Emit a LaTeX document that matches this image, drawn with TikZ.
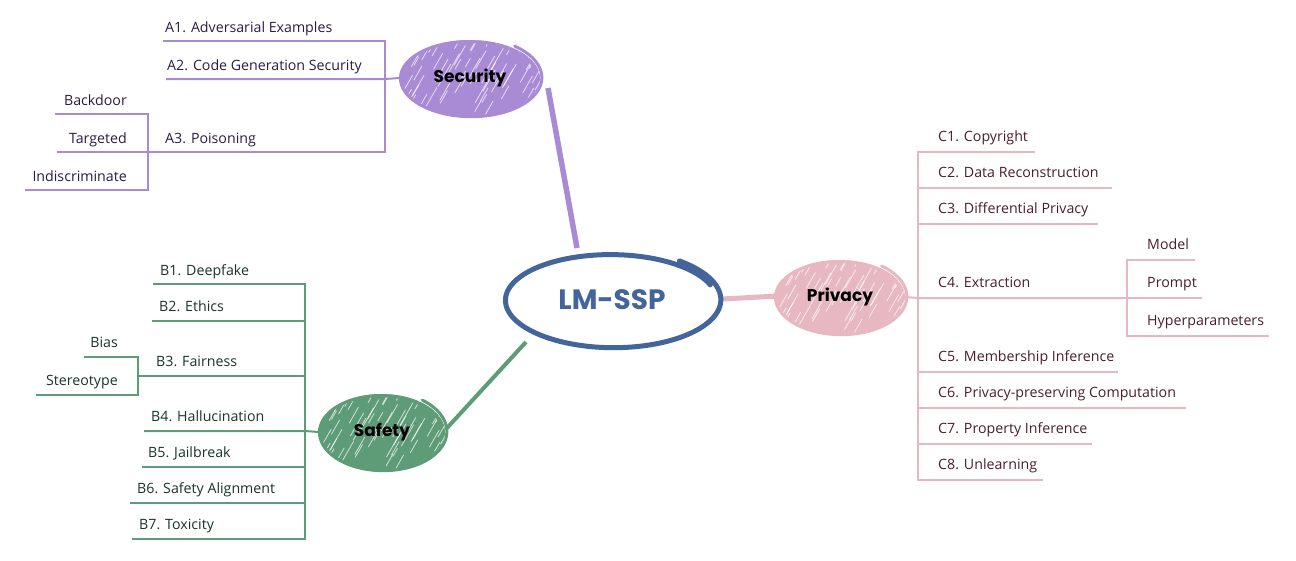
\documentclass[tikz,border=0pt]{standalone}
\usepackage{fontspec}
\setmainfont{Open Sans}
\newfontfamily\hd{Poppins}
\usetikzlibrary{shapes.geometric}
\definecolor{secC}{HTML}{A98AD4}
\definecolor{secT}{HTML}{2B1B45}
\definecolor{safC}{HTML}{5E9B77}
\definecolor{safT}{HTML}{1B3328}
\definecolor{priC}{HTML}{E8B8C2}
\definecolor{priT}{HTML}{4A1E2A}
\definecolor{cenC}{HTML}{44659B}
\tikzset{
  leaf/.style={anchor=base west, inner sep=0pt, font=\fontsize{14.2}{16}\selectfont},
  subleaf/.style={anchor=base east, inner sep=0pt, font=\fontsize{14.2}{16}\selectfont},
  secline/.style={draw=secC, line width=2pt},
  safline/.style={draw=safC, line width=2pt},
  priline/.style={draw=priC, line width=2pt},
  blob/.style={ellipse, inner sep=0pt, font=\hd\bfseries\fontsize{17}{19}\selectfont, text=black},
}
\newcommand\handoutline[6]{%
  \draw[#5, line width=#6, line join=round, line cap=round]
    plot[smooth, domain=20:412, samples=150]
    ({#1+(#3-2.5+5*(\x-20)/392)*cos(\x)}, {#2-(#4-2.5+5*(\x-20)/392)*sin(\x)});}
\newcommand\hatch[4]{%
  \begin{scope}
    \clip (#1,#2) ellipse ({#3} and {#4});
    \pgfmathsetseed{7}
    \foreach \i in {1,...,70} {
      \pgfmathsetmacro\px{#1+#3*(rand)}
      \pgfmathsetmacro\py{#2+#4*(rand)}
      \pgfmathsetmacro\ll{8+20*rnd}
      \draw[white, line width=0.8pt, opacity=0.7] (\px,\py) -- ++(\ll*0.5,-\ll*0.87);
    }
  \end{scope}}
\begin{document}
\begin{tikzpicture}[x=1pt,y=-1pt]
\useasboundingbox (0,0) rectangle (1296,560);

% ---------- connectors to centre ----------
\coordinate (cs1) at (577,248); \coordinate (cs2) at (548,88);
\coordinate (cf1) at (526,342); \coordinate (cf2) at (447,428);
\coordinate (cp1) at (722,299); \coordinate (cp2) at (778,296);
\draw[secC, line width=5.5pt] (cs1) -- (cs2);
\draw[safC, line width=4pt] (cf1) -- (cf2);
\draw[priC, line width=5pt] (cp1) -- (cp2);

% ---------- centre ----------
\node[ellipse, minimum width=214pt, minimum height=94pt, fill=white] (cen) at (612,300) {};
\handoutline{612}{300}{107}{47}{cenC}{5pt}
\node[font=\hd\bfseries\fontsize{28}{30}\selectfont, text=cenC] at (cen) {LM-SSP};

% ---------- Security ----------
\node[blob, minimum width=140pt, minimum height=76pt, fill=secC] (sec) at (470,78) {};
\hatch{470}{78}{70}{38}
\handoutline{470}{78}{70}{38}{secC}{3pt}
\node[blob] at (sec) {Security};

\coordinate (sJ1) at (385,41); \coordinate (sJ2) at (385,79); \coordinate (sJ3) at (385,152);
\coordinate (sA1) at (163,41); \coordinate (sA2) at (166,79); \coordinate (sA3) at (146,152);
\draw[secline] (sA1) -- (sJ1) -- (sJ3) -- (sA3);
\draw[secline] (sA2) -- (sJ2) -- (sec.west);
\node[leaf, text=secT] (a1) at (165,32) {A1. Adversarial Examples};
\node[leaf, text=secT] (a2) at (167,70) {A2. Code Generation Security};
\node[leaf, text=secT] (a3) at (165,143) {A3. Poisoning};
\coordinate (pJ1) at (148,114); \coordinate (pJ3) at (148,190);
\coordinate (pB) at (55,114); \coordinate (pT) at (57,152); \coordinate (pI) at (25,190);
\draw[secline] (pB) -- (pJ1) -- (pJ3) -- (pI);
\draw[secline] (pT) -- (sA3);
\node[subleaf, text=secT] (bd) at (127,105) {Backdoor};
\node[subleaf, text=secT] (tg) at (127,143) {Targeted};
\node[subleaf, text=secT] (ind) at (127,181) {Indiscriminate};

% ---------- Safety ----------
\node[blob, minimum width=126pt, minimum height=76pt, fill=safC] (saf) at (382,432) {};
\hatch{382}{432}{63}{38}
\handoutline{382}{432}{63}{38}{safC}{3pt}
\node[blob] at (saf) {Safety};

\coordinate (fJ1) at (305,284); \coordinate (fJ2) at (305,321); \coordinate (fJ3) at (305,376);
\coordinate (fJ4) at (305,431); \coordinate (fJ5) at (305,467); \coordinate (fJ6) at (305,503);
\coordinate (fJ7) at (305,539);
\draw[safline] (153,284) coordinate (fB1) -- (fJ1) -- (fJ7) -- (132,539) coordinate (fB7);
\draw[safline] (152,321) coordinate (fB2) -- (fJ2);
\draw[safline] (138,376) coordinate (fB3) -- (fJ3);
\draw[safline] (144,431) coordinate (fB4) -- (fJ4) -- (saf.west);
\draw[safline] (142,467) coordinate (fB5) -- (fJ5);
\draw[safline] (130,503) coordinate (fB6) -- (fJ6);
\node[leaf, text=safT] (b1) at (160,275) {B1. Deepfake};
\node[leaf, text=safT] (b2) at (159,311) {B2. Ethics};
\node[leaf, text=safT] (b3) at (156,366) {B3. Fairness};
\node[leaf, text=safT] (b4) at (151,421) {B4. Hallucination};
\node[leaf, text=safT] (b5) at (148,457) {B5. Jailbreak};
\node[leaf, text=safT] (b6) at (137,493) {B6. Safety Alignment};
\node[leaf, text=safT] (b7) at (139,529) {B7. Toxicity};
\coordinate (qJ1) at (138,357); \coordinate (qJ2) at (138,395);
\draw[safline] (84,357) coordinate (qB) -- (qJ1) -- (qJ2) -- (36,395) coordinate (qS);
\node[subleaf, text=safT] (bias) at (118,347) {Bias};
\node[subleaf, text=safT] (ster) at (118,385) {Stereotype};

% ---------- Privacy ----------
\node[blob, minimum width=130pt, minimum height=74pt, fill=priC] (pri) at (840,297) {};
\hatch{840}{297}{65}{37}
\handoutline{840}{297}{65}{37}{priC}{3pt}
\node[blob] at (pri) {Privacy};

\coordinate (rJ1) at (918,152); \coordinate (rJ8) at (918,480); \coordinate (rJ4) at (918,298);
\draw[priline] (1035,152) coordinate (rC1) -- (rJ1) -- (rJ8) -- (1043,480) coordinate (rC8);
\draw[priline] (pri.east) -- (rJ4) -- (1127,298) coordinate (xJ);
\draw[priline] (918,188) -- (1112,188) coordinate (rC2);
\draw[priline] (918,224) -- (1098,224) coordinate (rC3);
\draw[priline] (918,372) -- (1118,372) coordinate (rC5);
\draw[priline] (918,408) -- (1186,408) coordinate (rC6);
\draw[priline] (918,444) -- (1092,444) coordinate (rC7);
\node[leaf, text=priT] (c1) at (938,141) {C1. Copyright};
\node[leaf, text=priT] (c2) at (938,177) {C2. Data Reconstruction};
\node[leaf, text=priT] (c3) at (938,213) {C3. Differential Privacy};
\node[leaf, text=priT] (c4) at (938,287) {C4. Extraction};
\node[leaf, text=priT] (c5) at (938,361) {C5. Membership Inference};
\node[leaf, text=priT] (c6) at (938,397) {C6. Privacy-preserving Computation};
\node[leaf, text=priT] (c7) at (938,433) {C7. Property Inference};
\node[leaf, text=priT] (c8) at (938,469) {C8. Unlearning};
\coordinate (xJ1) at (1127,260); \coordinate (xJ3) at (1127,336);
\draw[priline] (1195,260) coordinate (xM) -- (xJ1) -- (xJ3) -- (1269,336) coordinate (xH);
\draw[priline] (xJ) -- (1202,298) coordinate (xP);
\node[leaf, text=priT] (mo) at (1147,249) {Model};
\node[leaf, text=priT] (pr) at (1147,287) {Prompt};
\node[leaf, text=priT] (hy) at (1147,325) {Hyperparameters};
\end{tikzpicture}
\end{document}
